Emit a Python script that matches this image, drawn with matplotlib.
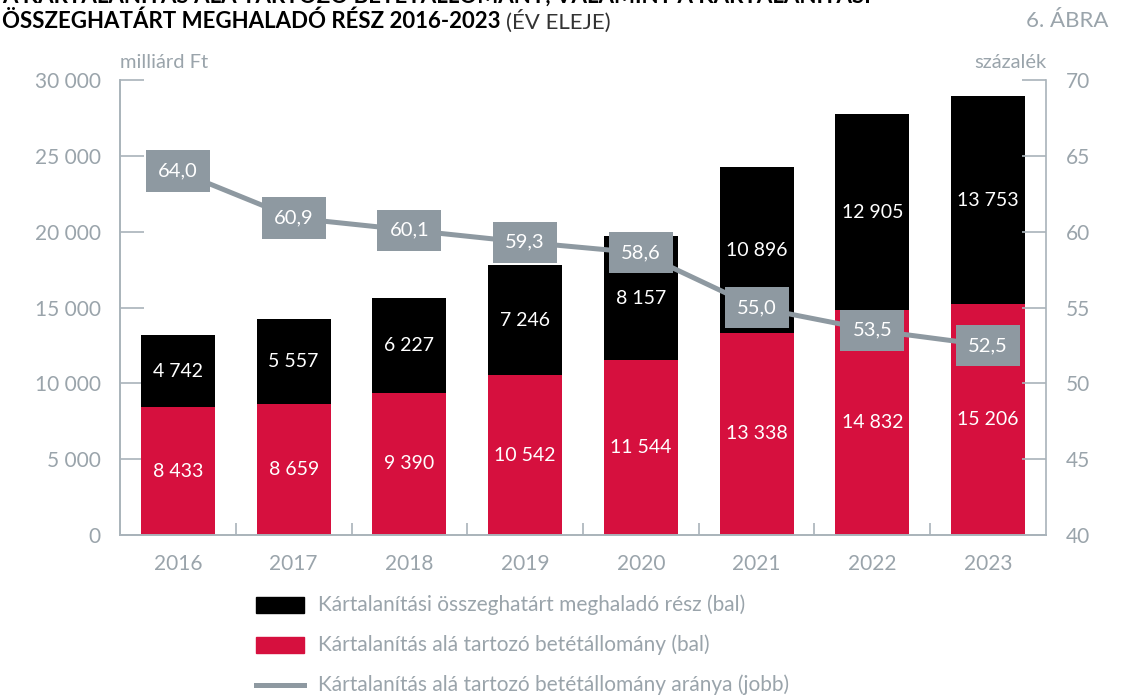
import matplotlib.pyplot as plt
import numpy as np

plt.rcParams['font.family'] = ['Lato', 'DejaVu Sans']

# Adatok
years = ['2016', '2017', '2018', '2019', '2020', '2021', '2022', '2023']
covered = [8433, 8659, 9390, 10542, 11544, 13338, 14832, 15206]
above_limit = [4742, 5557, 6227, 7246, 8157, 10896, 12905, 13753]
ratio = [64.0, 60.9, 60.1, 59.3, 58.6, 55.0, 53.5, 52.5]

RED = '#D6103E'
GREY = '#8E99A1'
AXC = '#A9B3BA'
TXT = '#9AA4AB'

fig = plt.figure(figsize=(11.39, 6.95), dpi=100)
ax = fig.add_axes([0.1054, 0.2302, 0.8129, 0.6547])
ax2 = ax.twinx()

x = np.arange(len(years))
w = 0.64
ax.bar(x, covered, w, color=RED, zorder=2)
ax.bar(x, above_limit, w, bottom=covered, color='black', zorder=2)

def fmt(v):
    return f'{v:,}'.replace(',', ' ')

for i in range(len(years)):
    ax.text(x[i], covered[i] / 2, fmt(covered[i]), ha='center', va='center',
            color='white', fontsize=14, zorder=3)
    ax.text(x[i], covered[i] + above_limit[i] / 2, fmt(above_limit[i]), ha='center',
            va='center', color='white', fontsize=14, zorder=3)

ax.set_xlim(-0.5, 7.5)
ax.set_ylim(0, 30000)
ax.set_yticks(range(0, 30001, 5000))
ax.set_yticklabels([fmt(v) for v in range(0, 30001, 5000)])
ax.set_xticks(x)
ax.set_xticklabels(years)
ax.set_xticks(np.arange(0.5, 7.5, 1), minor=True)

ax2.plot(x, ratio, color=GREY, lw=3.6, zorder=4)
for i in range(len(years)):
    ax2.text(x[i], ratio[i], f'{ratio[i]:.1f}'.replace('.', ','), ha='center', va='center',
             color='white', fontsize=14.5, zorder=5,
             bbox=dict(boxstyle='square,pad=0.6', fc=GREY, ec='none'))
ax2.set_ylim(40, 70)
ax2.set_yticks(range(40, 71, 5))

for a in (ax, ax2):
    for s in a.spines.values():
        s.set_color(AXC)
        s.set_linewidth(1.2)
    a.spines['top'].set_visible(False)
    a.patch.set_visible(False)
    a.tick_params(which='both', colors=AXC, labelcolor=TXT, labelsize=15)
ax.set_zorder(1)
ax2.set_zorder(2)

ax.tick_params(axis='y', direction='in', length=17, width=1.2, pad=14)
ax.tick_params(axis='x', which='major', length=0, pad=14)
ax.tick_params(axis='x', which='minor', direction='in', length=9, width=1.2)
ax2.tick_params(axis='y', direction='in', length=17, width=1.2, pad=14)
ax.spines['right'].set_visible(False)

fig.text(120 / 1139, 1 - 62 / 695, 'milliárd Ft', color=TXT, fontsize=14.5, va='center')
fig.text(1047 / 1139, 1 - 62 / 695, 'százalék', color=TXT, fontsize=14.5, va='center', ha='right')

# Cím (az első sor a kép szélén levágva, mint az eredetiben)
fig.text(0.002, 1 - 3 / 695, 'A KÁRTALANÍTÁS ALÁ TARTOZÓ BETÉTÁLLOMÁNY, VALAMINT A KÁRTALANÍTÁSI',
         fontsize=16, fontweight='bold', va='baseline', color='black')
t = fig.text(0.002, 1 - 21 / 695, 'ÖSSZEGHATÁRT MEGHALADÓ RÉSZ 2016-2023', fontsize=16,
             fontweight='bold', va='center', color='black')
fig.canvas.draw()
bb = t.get_window_extent()
fig.text(bb.x1 / 1139 + 0.005, 1 - 21 / 695, '(ÉV ELEJE)', fontsize=16, va='center', color='#333333')
fig.text(0.973, 1 - 21 / 695, '6. ÁBRA', fontsize=16, va='center', ha='right', color=TXT)

# Jelmagyarázat
labels = ['Kártalanítási összeghatárt meghaladó rész (bal)',
          'Kártalanítás alá tartozó betétállomány (bal)',
          'Kártalanítás alá tartozó betétállomány aránya (jobb)']
rows = [605, 645, 685]
for k, (lab, yy) in enumerate(zip(labels, rows)):
    yf = 1 - yy / 695
    if k < 2:
        fig.patches.append(plt.Rectangle((256 / 1139, yf - 8 / 695), 48 / 1139, 16 / 695,
                                         transform=fig.transFigure, color=['black', RED][k]))
    else:
        fig.lines.append(plt.Line2D([256 / 1139, 304 / 1139], [yf, yf], transform=fig.transFigure,
                                    color=GREY, lw=3.6))
    fig.text(318 / 1139, yf, lab, color=TXT, fontsize=15, va='center')

fig.savefig('out.png', dpi=100)
